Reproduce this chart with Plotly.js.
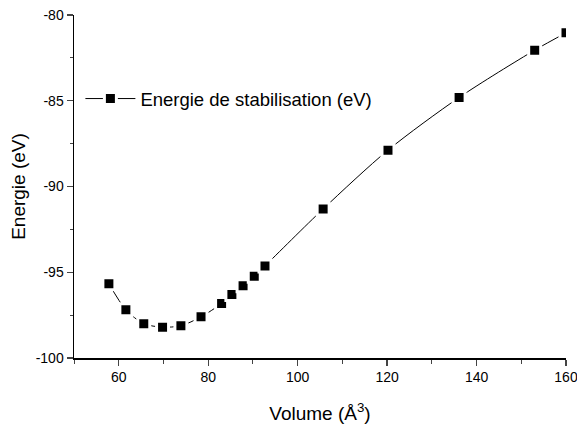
<!DOCTYPE html>
<html>
<head>
<meta charset="utf-8">
<script src="https://cdn.plot.ly/plotly-3.0.1.min.js"></script>
<style>html,body{margin:0;padding:0;background:#fff;}#chart{width:577px;height:426px;}</style>
</head>
<body>
<div id="chart"></div>
<script>
var volume = [57.8, 61.6, 65.6, 69.8, 73.9, 78.4, 83.0, 85.3, 87.8, 90.3, 92.7, 105.7, 120.2, 136.1, 153.0, 160.0];
var energy = [-95.67, -97.19, -98.0, -98.2, -98.12, -97.6, -96.82, -96.3, -95.79, -95.23, -94.63, -91.31, -87.88, -84.81, -82.05, -81.04];
var seriesName = "Energie de stabilisation (eV)";
var xTickVals = [60, 80, 100, 120, 140, 160];
var xTickText = ["60", "80", "100", "120", "140", "160"];
var yTickVals = [-100, -95, -90, -85, -80];
var yTickText = ["-100", "-95", "-90", "-85", "-80"];

var trace = {
  x: volume, y: energy, type: "scatter", mode: "lines+markers",
  name: seriesName,
  line: {color: "#000", width: 1, shape: "spline", smoothing: 0.8},
  marker: {symbol: "square", size: 12, color: "#000", line: {color: "#fff", width: 3}}
};

var layout = {
  width: 577, height: 426,
  margin: {l: 74, r: 11, t: 15, b: 68},
  paper_bgcolor: "#fff", plot_bgcolor: "#fff",
  font: {family: "Liberation Sans, Arial, sans-serif", color: "#000", size: 14},
  showlegend: true,
  legend: {x: 0.013, y: 0.755, xanchor: "left", yanchor: "middle", bgcolor: "rgba(0,0,0,0)",
           font: {size: 18.5}, itemwidth: 50},
  xaxis: {
    range: [50, 160], tickvals: xTickVals, ticktext: xTickText, ticks: "outside", ticklen: 6, tickwidth: 1.2,
    ticklabeloverflow: "allow",
    showline: true, linewidth: 1.5, linecolor: "#000", showgrid: false, zeroline: false,
    minor: {ticks: "outside", ticklen: 4, tickwidth: 1, dtick: 10, tick0: 60, showgrid: false},
    title: {text: "Volume (Å<sup>3</sup>)", font: {size: 19}, standoff: 22},
    tickfont: {size: 14}
  },
  yaxis: {
    range: [-100, -80], tickvals: yTickVals, ticktext: yTickText, ticks: "outside", ticklen: 6, tickwidth: 1.2,
    ticklabeloverflow: "allow",
    showline: true, linewidth: 1.5, linecolor: "#000", showgrid: false, zeroline: false,
    minor: {ticks: "outside", ticklen: 3, tickwidth: 1, dtick: 2.5, showgrid: false},
    title: {text: "Energie (eV)", font: {size: 19}, standoff: 5},
    tickfont: {size: 14}
  }
};

Plotly.newPlot("chart", [trace], layout, {displayModeBar: false, staticPlot: true});
</script>
</body>
</html>
